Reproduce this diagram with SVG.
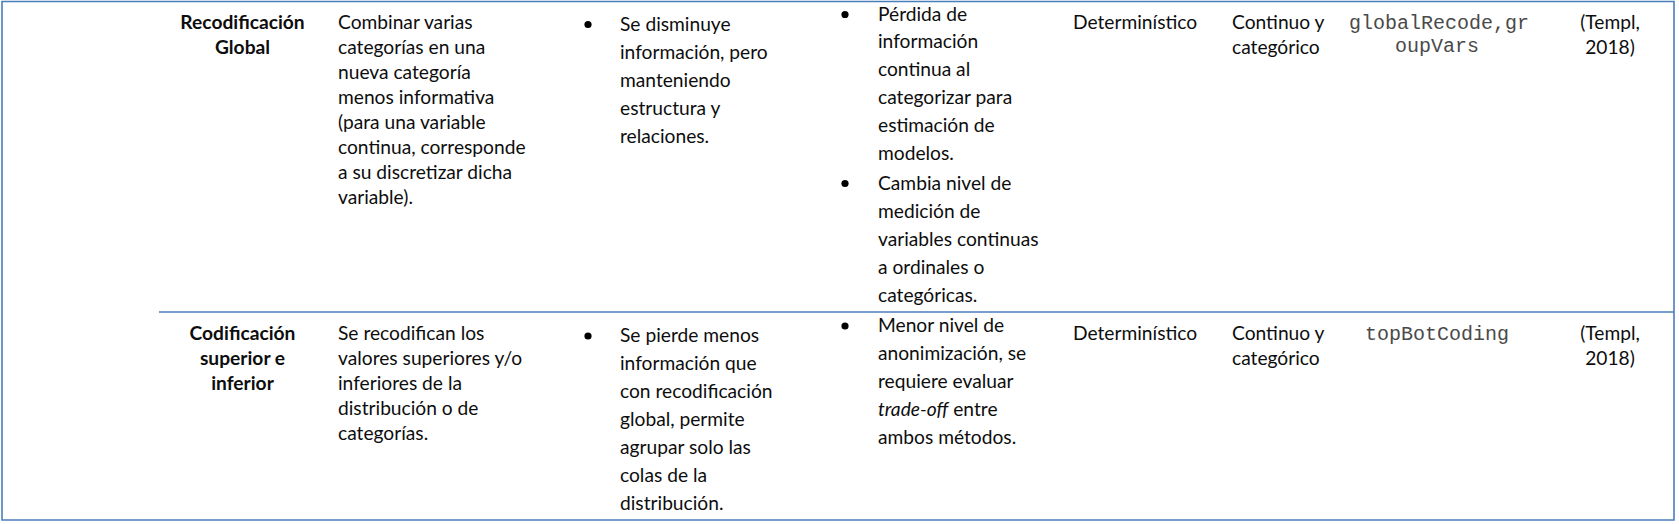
<svg xmlns="http://www.w3.org/2000/svg" width="1679" height="524" viewBox="0 0 1679 524">
<style>
.t{font-family:Lato,"Open Sans","Liberation Sans",sans-serif;font-size:19.2px;fill:#0d0d0d}
.b{font-weight:bold;text-anchor:middle}
.c{text-anchor:middle}
.m{font-family:"Liberation Mono","DejaVu Sans Mono",monospace;font-size:20px;fill:#4a4a4a;text-anchor:middle}
.ln{stroke:#4a7ebb;stroke-width:1.6;fill:none}
.bu{fill:#000}
</style>
<rect width="1679" height="524" fill="#fff"/>
<g id="connectors">
<path class="ln" d="M2,1.5 H1674 V520 H2 Z"/>
<path class="ln" d="M159,312 H1674"/>
</g>
<g id="row1">
<g id="r1-name"><text class="t b" x="242.5" y="29">Recodificación</text><text class="t b" x="242.5" y="54">Global</text></g>
<g id="r1-desc">
<text class="t" x="338" y="29">Combinar varias</text>
<text class="t" x="338" y="54">categorías en una</text>
<text class="t" x="338" y="79">nueva categoría</text>
<text class="t" x="338" y="104">menos informativa</text>
<text class="t" x="338" y="129">(para una variable</text>
<text class="t" x="338" y="154">continua, corresponde</text>
<text class="t" x="338" y="179">a su discretizar dicha</text>
<text class="t" x="338" y="204">variable).</text>
</g>
<g id="r1-adv">
<circle class="bu" cx="588" cy="24.5" r="3.6"/>
<text class="t" x="620" y="30.5">Se disminuye</text>
<text class="t" x="620" y="58.5">información, pero</text>
<text class="t" x="620" y="86.5">manteniendo</text>
<text class="t" x="620" y="114.5">estructura y</text>
<text class="t" x="620" y="142.5">relaciones.</text>
</g>
<g id="r1-dis">
<circle class="bu" cx="845" cy="14.5" r="3.6"/>
<text class="t" x="878" y="20.5">Pérdida de</text>
<text class="t" x="878" y="48.4">información</text>
<text class="t" x="878" y="76.3">continua al</text>
<text class="t" x="878" y="104.2">categorizar para</text>
<text class="t" x="878" y="132.1">estimación de</text>
<text class="t" x="878" y="160">modelos.</text>
<circle class="bu" cx="845" cy="183.5" r="3.6"/>
<text class="t" x="878" y="189.5">Cambia nivel de</text>
<text class="t" x="878" y="217.6">medición de</text>
<text class="t" x="878" y="245.7">variables continuas</text>
<text class="t" x="878" y="273.8">a ordinales o</text>
<text class="t" x="878" y="302">categóricas.</text>
</g>
<g id="r1-type"><text class="t" x="1073" y="29">Determinístico</text></g>
<g id="r1-var"><text class="t" x="1232" y="29">Continuo y</text><text class="t" x="1232" y="54">categórico</text></g>
<g id="r1-fn"><text class="m" x="1439" y="29">globalRecode,gr</text><text class="m" x="1437" y="52">oupVars</text></g>
<g id="r1-ref"><text class="t c" x="1610" y="29">(Templ,</text><text class="t c" x="1610" y="54">2018)</text></g>
</g>
<g id="row2">
<g id="r2-name"><text class="t b" x="242.5" y="340">Codificación</text><text class="t b" x="242.5" y="365">superior e</text><text class="t b" x="242.5" y="390">inferior</text></g>
<g id="r2-desc">
<text class="t" x="338" y="340">Se recodifican los</text>
<text class="t" x="338" y="365">valores superiores y/o</text>
<text class="t" x="338" y="390">inferiores de la</text>
<text class="t" x="338" y="415">distribución o de</text>
<text class="t" x="338" y="440">categorías.</text>
</g>
<g id="r2-adv">
<circle class="bu" cx="588" cy="336" r="3.6"/>
<text class="t" x="620" y="342">Se pierde menos</text>
<text class="t" x="620" y="370">información que</text>
<text class="t" x="620" y="398">con recodificación</text>
<text class="t" x="620" y="426">global, permite</text>
<text class="t" x="620" y="454">agrupar solo las</text>
<text class="t" x="620" y="482">colas de la</text>
<text class="t" x="620" y="510">distribución.</text>
</g>
<g id="r2-dis">
<circle class="bu" cx="845" cy="326" r="3.6"/>
<text class="t" x="878" y="332">Menor nivel de</text>
<text class="t" x="878" y="360">anonimización, se</text>
<text class="t" x="878" y="388">requiere evaluar</text>
<text class="t" x="878" y="416"><tspan font-style="italic">trade-off</tspan> entre</text>
<text class="t" x="878" y="444">ambos métodos.</text>
</g>
<g id="r2-type"><text class="t" x="1073" y="340">Determinístico</text></g>
<g id="r2-var"><text class="t" x="1232" y="340">Continuo y</text><text class="t" x="1232" y="365">categórico</text></g>
<g id="r2-fn"><text class="m" x="1437" y="340">topBotCoding</text></g>
<g id="r2-ref"><text class="t c" x="1610" y="340">(Templ,</text><text class="t c" x="1610" y="365">2018)</text></g>
</g>
</svg>
